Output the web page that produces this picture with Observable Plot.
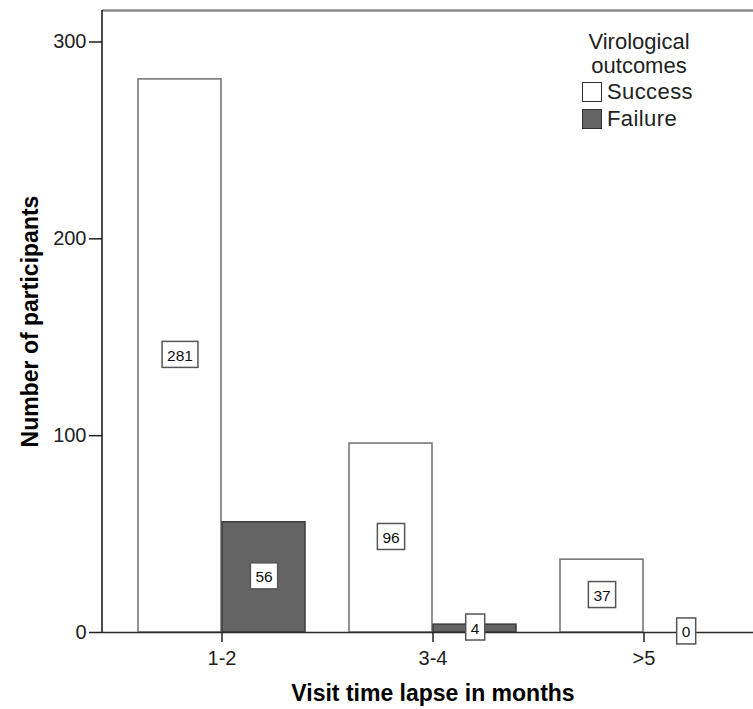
<!DOCTYPE html>
<html><head><meta charset="utf-8">
<script src="https://cdn.jsdelivr.net/npm/d3@7"></script>
<script src="https://cdn.jsdelivr.net/npm/@observablehq/plot@0.6"></script>
<style>
body{margin:0;background:#fff;font-family:"Liberation Sans",Arial,sans-serif;}
#wrap{position:relative;width:753px;height:709px;overflow:hidden;}
#legend{position:absolute;left:574px;top:30px;width:130px;font-size:22px;color:#222;line-height:24px;}
#legend .ttl{text-align:center;}
#legend .row{display:flex;align-items:center;height:27px;margin-left:8px;letter-spacing:0.4px;}
#legend .sw{width:18px;height:18px;border:1.5px solid #333;margin-right:5px;box-sizing:content-box;}
</style></head><body><div id="wrap"></div>
<script>
const categories = ["1-2", "3-4", ">5"];
const outcomes = ["Success", "Failure"];
const successCounts = [281, 96, 37];
const failureCounts = [56, 4, 0];
const yTicks = [0, 100, 200, 300];
const yMax = 316;
const xTitle = "Visit time lapse in months";
const yTitle = "Number of participants";
const legendTitle = ["Virological", "outcomes"];
const outcomeFills = ["#ffffff", "#646464"];
const labelColor = "#101010";

const successData = categories.map((c, i) => ({cat: c, value: successCounts[i]}));
const failureData = categories.map((c, i) => ({cat: c, value: failureCounts[i]}));

const chart = Plot.plot({
  width: 753, height: 709,
  marginLeft: 102, marginRight: 0, marginTop: 10, marginBottom: 77,
  style: {fontFamily: "Liberation Sans, Arial, sans-serif", background: "white", overflow: "visible"},
  x: {type: "band", domain: categories, paddingInner: 0, paddingOuter: 0.0354, align: 0.8},
  y: {domain: [0, yMax]},
  marks: [
    Plot.barY(successData, {x: "cat", y: "value", fill: outcomeFills[0], stroke: "#707070", strokeWidth: 1.5, insetLeft: 22, insetRight: 106}),
    Plot.barY(failureData, {x: "cat", y: "value", fill: outcomeFills[1], stroke: "#3c3c3c", strokeWidth: 1.5, insetLeft: 106, insetRight: 22}),
    Plot.ruleY([0], {stroke: "#2a2a2a", strokeWidth: 1.5}),
    Plot.ruleY([yMax], {stroke: "#8a8a8a", strokeWidth: 2.5}),
    Plot.axisY({ticks: yTicks, tickSize: 13, tickPadding: 3, fontSize: 20, label: null, color: "#222", strokeWidth: 1.5}),
    Plot.axisX({tickSize: 10, tickPadding: 8, fontSize: 20, label: null, color: "#222", strokeWidth: 1.5}),
    Plot.text(successData, {x: "cat", y: d => d.value / 2, text: d => String(d.value), dx: -42, fontSize: 15.5, fill: labelColor}),
    Plot.text(failureData, {x: "cat", y: d => d.value / 2, text: d => String(d.value), dx: 42, fontSize: 15.5, fill: labelColor}),
    Plot.text([yTitle], {text: d => d, frameAnchor: "left", dx: -72, rotate: -90, textAnchor: "middle", lineAnchor: "middle", fontSize: 23, fontWeight: "bold", fill: "#000"}),
    Plot.text([xTitle], {text: d => d, frameAnchor: "bottom", dy: 61, dx: 5, textAnchor: "middle", lineAnchor: "middle", fontSize: 23, fontWeight: "bold", fill: "#000"})
  ]
});

const wrap = document.getElementById("wrap");
wrap.appendChild(chart);

const svg = d3.select(chart);
// left axis line along the frame
const xr = chart.scale("x").range;
const yr = chart.scale("y").range;
svg.append("line")
  .attr("x1", xr[0]).attr("x2", xr[0])
  .attr("y1", yr[0]).attr("y2", yr[1])
  .attr("stroke", "#111").attr("stroke-width", 1.5);

// boxes behind value labels
const labelTexts = [];
chart.querySelectorAll("text").forEach(t => {
  let g = t.parentNode;
  const fill = (g && g.getAttribute && g.getAttribute("fill")) || t.getAttribute("fill");
  if (fill && fill.toLowerCase() === labelColor) labelTexts.push(t);
});
labelTexts.forEach(t => {
  const b = t.getBBox();
  const cy = b.y + b.height / 2 - 1;
  const r = document.createElementNS("http://www.w3.org/2000/svg", "rect");
  r.setAttribute("x", b.x - 5);
  r.setAttribute("width", b.width + 10);
  r.setAttribute("y", cy - 13);
  r.setAttribute("height", 26);
  r.setAttribute("fill", "white");
  r.setAttribute("stroke", "#555");
  r.setAttribute("stroke-width", 1.5);
  const tr = t.getAttribute("transform");
  if (tr) r.setAttribute("transform", tr);
  t.parentNode.insertBefore(r, t);
});

// legend
const lg = d3.select(wrap).append("div").attr("id", "legend");
lg.append("div").attr("class", "ttl").html(legendTitle.join("<br>"));
outcomes.forEach((o, i) => {
  const row = lg.append("div").attr("class", "row");
  row.append("div").attr("class", "sw").style("background", outcomeFills[i]);
  row.append("span").text(o);
});
</script>
</body></html>
